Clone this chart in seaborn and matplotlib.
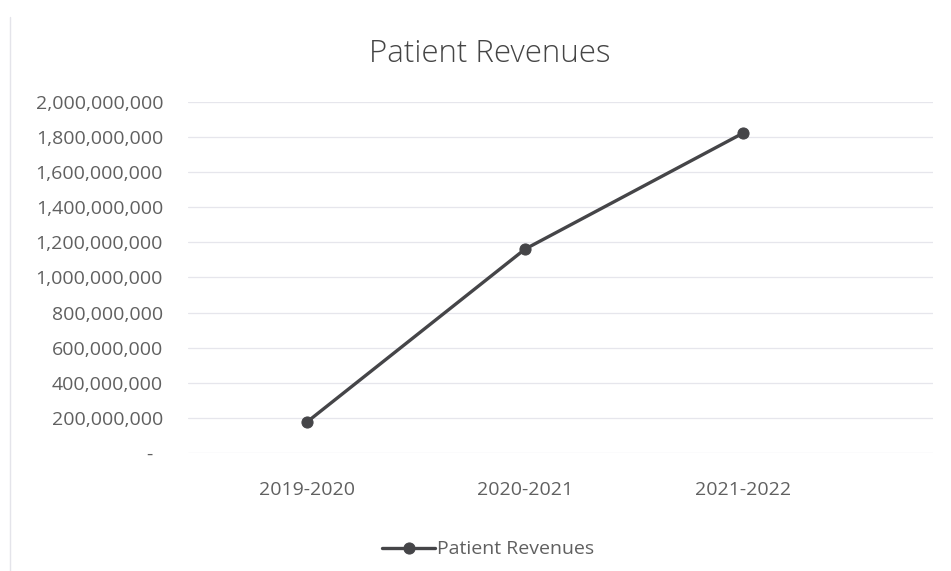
import pandas as pd
import seaborn as sns
import matplotlib.pyplot as plt
from matplotlib.ticker import FuncFormatter

years = ['2019-2020', '2020-2021', '2021-2022']
revenues = [177_000_000, 1_162_000_000, 1_823_000_000]
y_ticks = [0, 200_000_000, 400_000_000, 600_000_000, 800_000_000, 1_000_000_000,
           1_200_000_000, 1_400_000_000, 1_600_000_000, 1_800_000_000, 2_000_000_000]

df = pd.DataFrame({'year': years, 'revenue': revenues, 'series': 'Patient Revenues'})
df['pos'] = range(len(years))

sns.set_style('white')
plt.rcParams['font.family'] = ['Open Sans', 'DejaVu Sans']

fig = plt.figure(figsize=(9.51, 5.71), dpi=100)
ax = fig.add_axes([0.1977, 0.2067, 0.7833, 0.6147])

line_col = '#454548'
sns.lineplot(data=df, x='pos', y='revenue', hue='series', palette=[line_col],
             marker='o', markersize=8, linewidth=2.4, markeredgecolor=line_col,
             ax=ax)

ax.set_xlim(-0.546, 2.87)
ax.set_ylim(0, 2_000_000_000)
ax.set_yticks(y_ticks)
ax.yaxis.set_major_formatter(FuncFormatter(lambda v, p: '-  ' if v == 0 else f'{v:,.0f}'))
ax.set_xticks(range(len(years)))
ax.set_xticklabels(years)
ax.tick_params(axis='y', length=0, pad=18, labelsize=14, labelcolor='#606060')
ax.tick_params(axis='x', length=0, pad=20, labelsize=14, labelcolor='#606060')
ax.grid(axis='y', color='#e6e6ec', linewidth=0.9)
for s in ax.spines.values():
    s.set_visible(False)
ax.set_xlabel('')
ax.set_ylabel('')

fig.text(0.515, 0.905, 'Patient Revenues', ha='center', va='center',
         fontsize=22.5, fontweight='light', color='#454545')

ax.legend(loc='center', bbox_to_anchor=(0.403, -0.275), frameon=False,
          fontsize=14, labelcolor='#606060', handlelength=2.7, handletextpad=0.1)

# faint chart border on the left like the scanned sheet
fig.add_artist(plt.Line2D([0.011, 0.011], [0.0, 0.97], color='#e4e4ea', linewidth=1))

fig.savefig('out.png', dpi=100, facecolor='white')
